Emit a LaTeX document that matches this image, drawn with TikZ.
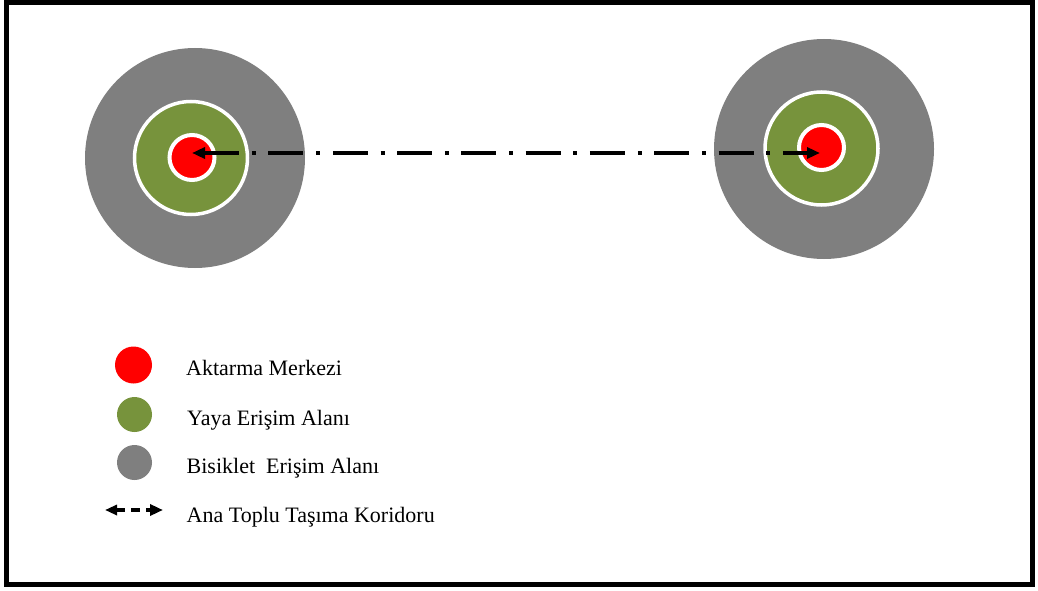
\documentclass[tikz,border=0pt]{standalone}
\usepackage{fontspec}
\setmainfont{Liberation Serif}
\usetikzlibrary{arrows.meta}
\definecolor{hubred}{HTML}{FF0000}
\definecolor{walkgreen}{HTML}{77933C}
\definecolor{bikegray}{HTML}{7F7F7F}

\begin{document}
\begin{tikzpicture}[x=1pt,y=-1pt,
  disc/.style={circle, inner sep=0pt, minimum size=#1},
  bikezone/.style={disc=220pt, fill=bikegray},
  walkzone/.style={disc=113pt, fill=walkgreen, draw=white, line width=3.5pt},
  hubzone/.style={disc=45pt, fill=hubred, draw=white, line width=4pt},
  corridor/.style={line width=4pt,
    {Triangle[length=13pt,width=11pt]}-{Triangle[length=13pt,width=11pt]},
    dash pattern=on 35pt off 12.8pt on 4pt off 12.5pt},
  keycorridor/.style={line width=4pt,
    {Triangle[length=12pt,width=10pt]}-{Triangle[length=13pt,width=11pt]},
    dash pattern=on 9pt off 6pt},
  keytext/.style={anchor=base west, inner sep=0pt, font=\fontsize{22}{26}\selectfont}
]
\useasboundingbox (0,0) rectangle (1038,591);

% frame
\draw[line width=5pt] (6,2.5) rectangle (1032,584.5);

% left station and its catchment rings
\node[bikezone] (lgray)  at (195,158)   {};
\node[walkzone] (lgreen) at (191,158)   {};
\node[hubzone]  (lred)   at (192,157.5) {};

% right station and its catchment rings
\node[bikezone] (rgray)  at (824,149)     {};
\node[walkzone] (rgreen) at (821.5,148.5) {};
\node[hubzone]  (rred)   at (821.5,147.5) {};

% main transit corridor between the two stations
\coordinate (aL) at (192,153);
\coordinate (aR) at (820,153);
\draw[corridor] (aL) -- (aR);

% legend
\node[disc=37pt, fill=hubred]    (kred)   at (133.5,365) {};
\node[disc=35pt, fill=walkgreen] (kgreen) at (134.5,414.5) {};
\node[disc=35pt, fill=bikegray]  (kgray)  at (134.5,462.5) {};
\coordinate (kL) at (105,510);
\coordinate (kR) at (163,510);
\draw[keycorridor] (kL) -- (kR);

\node[keytext] (t1) at (186,375) {Aktarma Merkezi};
\node[keytext] (t2) at (187,425) {Yaya Erişim Alanı};
\node[keytext] (t3) at (186.5,473) {Bisiklet\ \ Erişim Alanı};
\node[keytext] (t4) at (186.5,522) {Ana Toplu Taşıma Koridoru};
\end{tikzpicture}
\end{document}
